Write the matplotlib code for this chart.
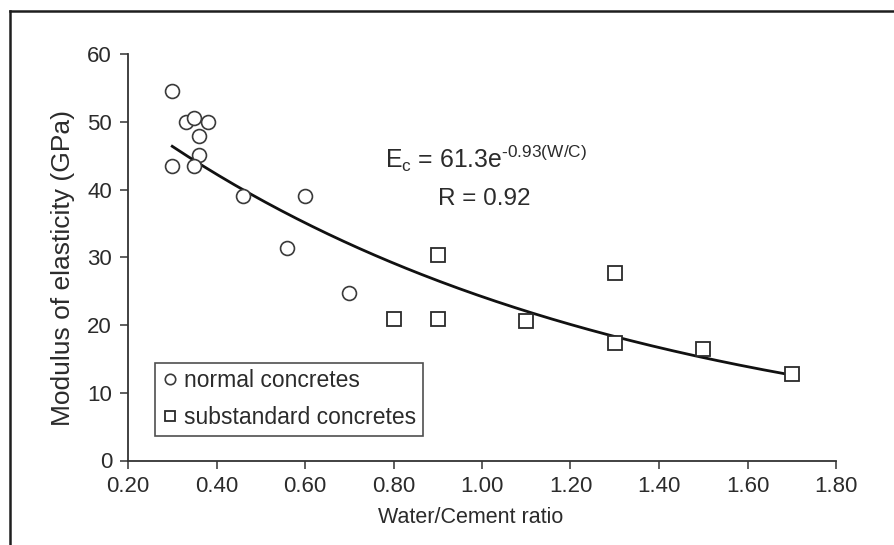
import numpy as np
import matplotlib
matplotlib.use("Agg")
import matplotlib.pyplot as plt
from matplotlib.lines import Line2D

plt.rcParams['font.family'] = ['Liberation Sans', 'DejaVu Sans']
plt.rcParams['mathtext.fontset'] = 'custom'
plt.rcParams['mathtext.rm'] = 'Liberation Sans'
plt.rcParams['mathtext.it'] = 'Liberation Sans'

# ---- data ----
normal_wc = [0.30, 0.33, 0.35, 0.38, 0.36, 0.36, 0.30, 0.35, 0.46, 0.60, 0.56, 0.70]
normal_E = [54.5, 49.9, 50.6, 49.9, 47.9, 45.1, 43.5, 43.5, 39.1, 39.1, 31.4, 24.7]
sub_wc = [0.90, 0.80, 0.90, 1.10, 1.30, 1.30, 1.50, 1.70]
sub_E = [30.3, 20.9, 20.9, 20.6, 27.7, 17.4, 16.4, 12.8]
fit_a = 61.3
fit_b = 0.93
fit_range = (0.30, 1.70)
x_ticks = [0.2, 0.4, 0.6, 0.8, 1.0, 1.2, 1.4, 1.6, 1.8]
x_tick_labels = ["0.20", "0.40", "0.60", "0.80", "1.00", "1.20", "1.40", "1.60", "1.80"]
y_ticks = [0, 10, 20, 30, 40, 50, 60]

ink = '#2b2b2b'
W, H = 895, 545
fig = plt.figure(figsize=(W / 100, H / 100), dpi=100)
fig.patch.set_facecolor('white')

ax = fig.add_axes([128 / W, 1 - 460.5 / H, (836 - 128) / W, (460.5 - 54) / H])
ax.set_xlim(0.2, 1.8)
ax.set_ylim(0, 60)

# fitted curve (from the equation shown on the chart)
xf = np.linspace(fit_range[0], fit_range[1], 200)
ax.plot(xf, fit_a * np.exp(-fit_b * xf), color='#111111', lw=2.0, zorder=2)

ax.plot(normal_wc, normal_E, linestyle='none', marker='o', markersize=10,
        markerfacecolor='white', markeredgecolor='#3a3a3a', markeredgewidth=1.2,
        label='normal concretes', zorder=3)
ax.plot(sub_wc, sub_E, linestyle='none', marker='s', markersize=10.5,
        markerfacecolor='white', markeredgecolor='#2a2a2a', markeredgewidth=1.3,
        label='substandard concretes', zorder=3)

ax.text(0.78, 43.2, 'E$_{\\mathrm{c}}$ = 61.3e$^{\\mathrm{\u20100.93(W/C)}}$', fontsize=17.8,
        color=ink, ha='left', va='baseline')
ax.text(0.90, 37.7, 'R = 0.92', fontsize=17.5, color=ink, ha='left', va='baseline')

for s in ['top', 'right']:
    ax.spines[s].set_visible(False)
for s in ['left', 'bottom']:
    ax.spines[s].set_color('#333333')
    ax.spines[s].set_linewidth(1.3)

ax.set_xticks(x_ticks)
ax.set_xticklabels(x_tick_labels)
ax.set_yticks(y_ticks)
ax.tick_params(axis='both', direction='out', length=5.5, width=1.1, color='#333333',
               labelsize=16, labelcolor=ink)
ax.tick_params(axis='x', pad=6)
ax.tick_params(axis='y', pad=6)

fig.text(470.5 / W, 1 - 523 / H, 'Water/Cement ratio', fontsize=15.5, color=ink,
         ha='center', va='baseline')
fig.text(63 / W, 1 - 268 / H, 'Modulus of elasticity (GPa)', fontsize=19, color=ink,
         ha='center', va='center', rotation=90)

leg = ax.legend(loc='lower left', bbox_to_anchor=((155 - 128) / 708, (460.5 - 436) / 406.5),
                borderaxespad=0, fancybox=False, frameon=True, numpoints=1,
                markerscale=0.75, fontsize=16.5, handlelength=0.7, handletextpad=0.25,
                borderpad=0.3, labelspacing=0.6)
frame = leg.get_frame()
frame.set_edgecolor('#222222')
frame.set_linewidth(1.2)
for t in leg.get_texts():
    t.set_color(ink)

# outer frame lines (top and left)
fig.add_artist(Line2D([10.5 / W, 1.0], [1 - 10.5 / H, 1 - 10.5 / H], transform=fig.transFigure,
                      color='#1e1e1e', lw=1.8))
fig.add_artist(Line2D([10.5 / W, 10.5 / W], [1 - 10.5 / H, 0.0], transform=fig.transFigure,
                      color='#1e1e1e', lw=1.8))

fig.savefig('out.png', dpi=100)
